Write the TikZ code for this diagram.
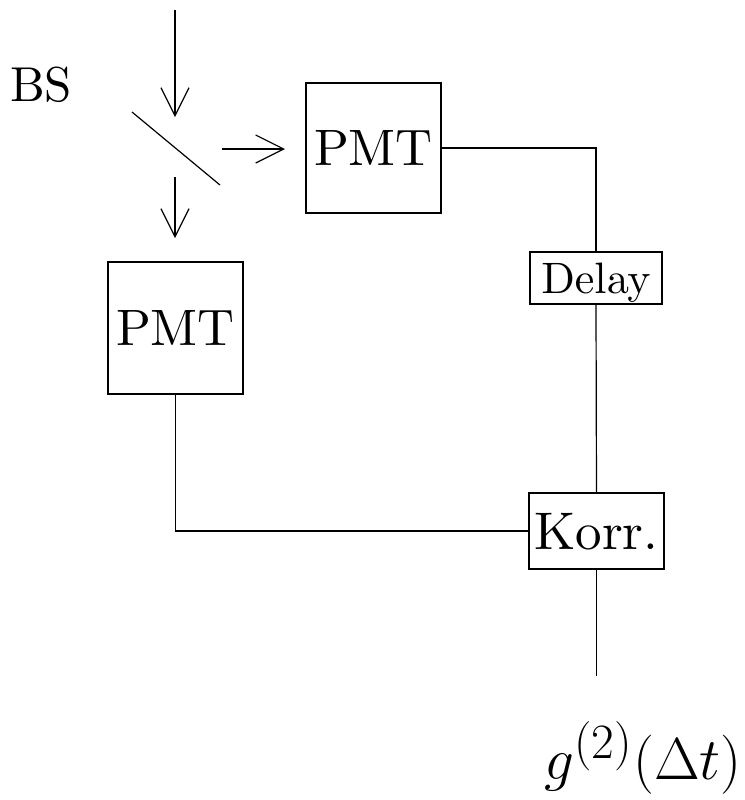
\documentclass[tikz,border=0pt]{standalone}
\usepackage{amsmath}
\usepackage{tikz}
\usetikzlibrary{arrows.meta,positioning}
\font\pmtfont=cmr10 at 25.6pt
\font\bsfont=cmr10 at 24.5pt
\font\delayfont=cmr10 at 22pt
\font\korrfont=cmr10 at 26.5pt

\begin{document}
\begin{tikzpicture}[
  x=0.5pt, y=-0.5pt,
  every node/.style={inner sep=0pt, outer sep=0pt},
  box/.style={draw, line width=0.6pt, minimum width=67.5pt, minimum height=65pt,
              font=\pmtfont},
  smallbox/.style={box, minimum width=66pt, minimum height=26pt, font=\delayfont},
  wire/.style={line width=0.6pt},
  beam/.style={-{Straight Barb[length=14pt, width=14pt, line width=0.6pt]}, line width=0.6pt},
]
  \useasboundingbox (0,0) rectangle (745,800);

  % detectors and electronics
  \node[box] (pmtA) at (373.5,148) {PMT};
  \node[box, minimum height=66pt] (pmtB) at (175.5,328) {PMT};
  \node[smallbox, text depth=0pt] (delay) at (596,278) {Delay};
  \node[smallbox, minimum width=67.5pt, minimum height=38pt,
        font=\korrfont] (korr) at (596.5,531) {Korr.};
  \node[font=\bsfont] (bs) at (41,85) {BS};
  \node[font=\fontsize{24.88}{30}\selectfont, scale=1.19, transform shape]
    (gtwo) at (643,758) {$g^{(2)}(\Delta t)$};

  % beam splitter and beams
  \coordinate (bsa) at (132,112);
  \coordinate (bsb) at (220,185);
  \coordinate (inbeam) at (175,10);
  \coordinate (inend) at (175,117);
  \coordinate (refl) at (222,149);
  \coordinate (reflend) at (285,149);
  \coordinate (trans) at (175,177);
  \coordinate (transend) at (175,238);
  \coordinate (out) at (596.5,676);

  \draw[wire] (bsa) -- (bsb);
  \draw[beam] (inbeam) -- (inend);
  \draw[beam] (refl) -- (reflend);
  \draw[beam] (trans) -- (transend);

  % signal lines
  \draw[wire] (pmtA.east) -| (delay.north);
  \draw[wire] (delay.south) -- (korr.north);
  \draw[wire] (pmtB.south) |- (korr.west);
  \draw[wire] (korr.south) -- (out);
\end{tikzpicture}
\end{document}
